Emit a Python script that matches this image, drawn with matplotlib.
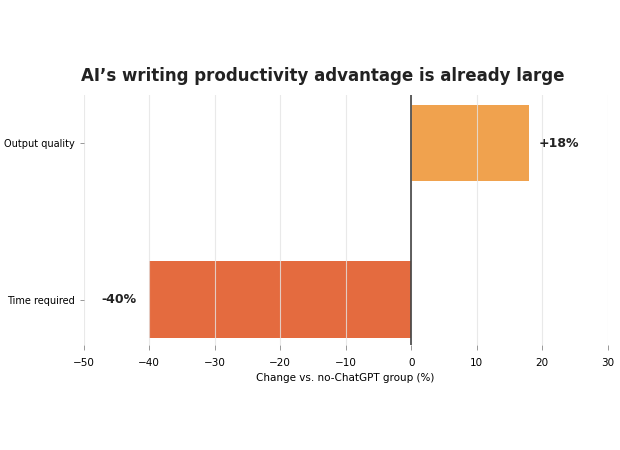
import matplotlib
matplotlib.use('Agg')
import matplotlib.pyplot as plt

categories = ['Time required', 'Output quality']
changes = [-40, 18]
bar_colors = ['#E46B3F', '#F0A24E']
labels = ['-40%', '+18%']

fig, ax = plt.subplots(figsize=(6.2, 4.5), dpi=100)
fig.subplots_adjust(left=0.135, right=0.98, top=0.79, bottom=0.233)

ax.barh(categories, changes, height=0.49, color=bar_colors, zorder=1)
ax.axvline(0, color='#444444', linewidth=1.2, zorder=3)

for i, (v, lab) in enumerate(zip(changes, labels)):
    if v >= 0:
        ax.text(v + 1.5, i, lab, ha='left', va='center', fontsize=9, fontweight='bold', color='#222222')
    else:
        ax.text(v - 2, i, lab, ha='right', va='center', fontsize=9, fontweight='bold', color='#222222')

ax.set_xlim(-50, 30)
ax.set_ylim(-0.29, 1.31)
ax.set_xticks(range(-50, 31, 10))
ax.grid(axis='x', color='#e4e4e4', linewidth=0.8, alpha=0.8, zorder=2)
ax.set_axisbelow(False)
for s in ax.spines.values():
    s.set_visible(False)
ax.tick_params(axis='x', labelsize=7.5, length=3.5, color='#888888', width=0.6, pad=6)
ax.tick_params(axis='y', labelsize=7, length=3, color='#888888', width=0.6)
ax.set_xlabel('Change vs. no-ChatGPT group (%)', fontsize=7.5, labelpad=3)
ax.set_title('AI\u2019s writing productivity advantage is already large', fontsize=12, fontweight='bold', color='#222222', pad=10, x=0.457)

fig.savefig('out.png', dpi=100)
